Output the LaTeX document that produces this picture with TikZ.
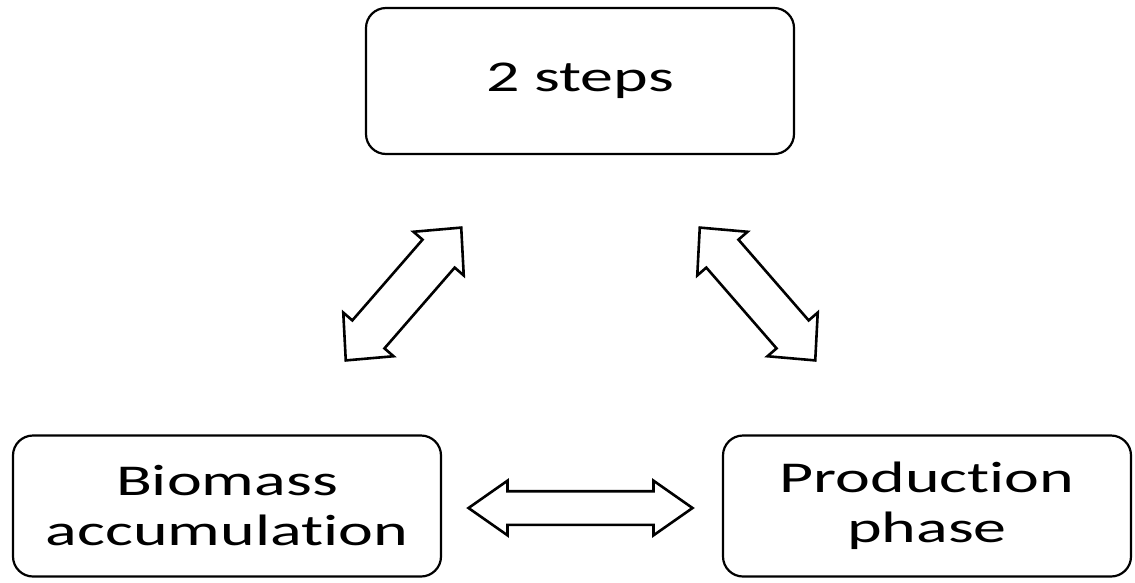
\documentclass[tikz,border=0pt]{standalone}
\usepackage{fontspec}
\usetikzlibrary{shapes.arrows}
\newfontfamily\boxfont[FakeStretch=1.5, Ligatures=NoCommon]{Carlito}

\begin{document}
\begin{tikzpicture}[x=1pt,y=-1pt]
      \useasboundingbox (0,0) rectangle (1135,582);

      \begin{scope}[every node/.style={draw, line width=2.2pt, rounded corners=20pt,
          align=center, inner sep=0pt, font=\boxfont\fontsize{44}{50}\selectfont}]
        \node[minimum width=428pt, minimum height=146pt] (steps)   at (580,81)  {2 steps};
        \node[minimum width=428pt, minimum height=141pt] (biomass) at (227,506) {Biomass\\accumulation};
        \node[minimum width=408pt, minimum height=141pt] (product) at (927,506) {Production\\phase};
      \end{scope}

      \begin{scope}[every node/.style={double arrow, draw, line width=2.6pt, inner xsep=0pt,
          text height=0pt, text depth=0pt}]
        \node[inner ysep=15.5pt, double arrow head extend=10.5pt, double arrow tip angle=70,
          minimum height=224pt] (across) at (580.5,508) {};
        \node[inner ysep=20pt, double arrow head extend=12pt, double arrow tip angle=88,
          minimum height=176pt, rotate=49] (left) at (403.5,294) {};
        \node[inner ysep=20pt, double arrow head extend=12pt, double arrow tip angle=88,
          minimum height=176pt, rotate=-49] (right) at (757.5,294) {};
      \end{scope}

    \end{tikzpicture}
\end{document}
